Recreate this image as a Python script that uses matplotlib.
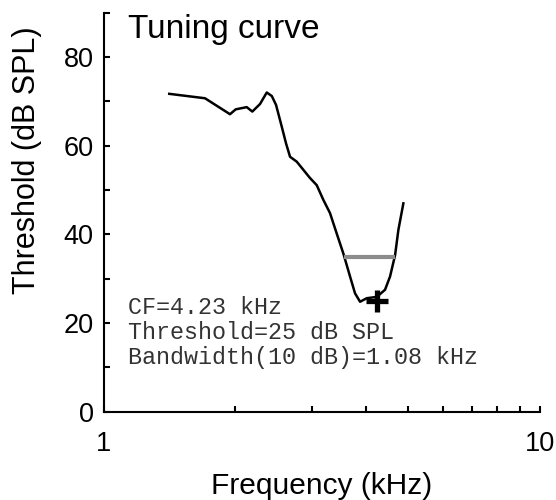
import numpy as np
import matplotlib.pyplot as plt

plt.rcParams['font.family'] = ['Liberation Sans', 'DejaVu Sans']

# tuning curve: frequency (kHz) vs threshold (dB SPL)
freq_khz = [1.415, 1.709, 1.950, 2.010, 2.130, 2.194, 2.285, 2.368, 2.432, 2.487,
            2.563, 2.622, 2.678, 2.774, 2.976, 3.083, 3.192, 3.307, 3.426, 3.548,
            3.676, 3.774, 3.876, 4.016, 4.234, 4.422, 4.541, 4.663, 4.745, 4.872]
thresh_db = [71.7, 70.7, 67.1, 68.2, 68.7, 67.7, 69.4, 72.0, 71.2, 69.2,
             64.3, 60.5, 57.5, 56.4, 52.7, 51.1, 47.8, 44.8, 40.2, 35.7,
             30.5, 26.7, 24.8, 25.6, 25.9, 27.5, 30.5, 35.3, 41.0, 47.0]

cf_khz = 4.23
cf_thresh = 25
bw_level = cf_thresh + 10
bw_lo, bw_hi = 3.57, 4.65

info_lines = ["CF=4.23 kHz",
              "Threshold=25 dB SPL",
              "Bandwidth(10 dB)=1.08 kHz"]

fig = plt.figure(figsize=(5.56, 5.0), dpi=100)
ax = fig.add_axes([0.1862, 0.1766, 0.7842, 0.798])

ax.plot(freq_khz, thresh_db, color='black', lw=1.8)
ax.plot([bw_lo, bw_hi], [bw_level, bw_level], color='#8c8c8c', lw=3, solid_capstyle='butt')
ax.plot([cf_khz], [cf_thresh], marker='+', color='black', ms=16, mew=3.8)

ax.set_xscale('log')
ax.set_xlim(1, 10)
ax.set_ylim(0, 90)

ax.set_xticks([1, 10])
ax.set_xticklabels(['1', '10'])
ax.set_xticks(np.arange(2, 10), minor=True)
ax.set_xticklabels([], minor=True)
ax.set_yticks([0, 20, 40, 60, 80])
ax.set_yticks([10, 30, 50, 70, 90], minor=True)

for side in ['top', 'right']:
    ax.spines[side].set_visible(False)
for side in ['left', 'bottom']:
    ax.spines[side].set_linewidth(1.5)

ax.tick_params(which='both', direction='in', length=4, width=1.5)
ax.tick_params(axis='y', labelsize=19.5, pad=7)
ax.tick_params(axis='x', labelsize=19.5, pad=14)

ax.set_xlabel('Frequency (kHz)', fontsize=21.5)
ax.set_ylabel('Threshold (dB SPL)', fontsize=22)
ax.xaxis.set_label_coords(0.5, -0.152)
ax.yaxis.set_label_coords(-0.141, 0.63)

ax.text(0.056, 0.9366, 'Tuning curve', transform=ax.transAxes,
        fontsize=24, va='baseline', ha='left')

for i, line in enumerate(info_lines):
    ax.text(0.056, 0.262 - i * 0.0635, line, transform=ax.transAxes,
            fontsize=16.8, family='Liberation Mono', color='#333333',
            va='center', ha='left')

fig.savefig('out.png', dpi=100)
